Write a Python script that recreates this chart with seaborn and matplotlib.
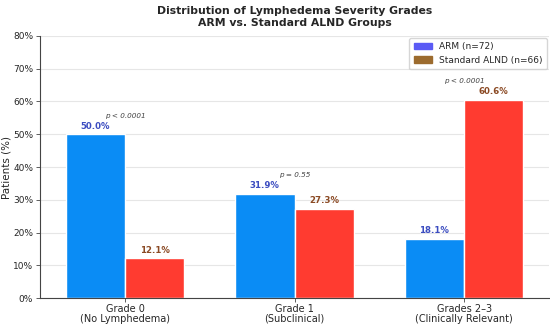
import pandas as pd
import numpy as np
import seaborn as sns
import matplotlib.pyplot as plt
from matplotlib.patches import Patch
from matplotlib.ticker import PercentFormatter

# Data
grades = ['Grade 0\n(No Lymphedema)', 'Grade 1\n(Subclinical)', 'Grades 2–3\n(Clinically Relevant)']
arm_pct = [50.0, 31.9, 18.1]
alnd_pct = [12.1, 27.3, 60.6]
p_values = ['p < 0.0001', 'p = 0.55', 'p < 0.0001']
groups = ['ARM (n=72)', 'Standard ALND (n=66)']

df = pd.DataFrame({
    'grade': grades * 2,
    'pct': arm_pct + alnd_pct,
    'group': [groups[0]] * 3 + [groups[1]] * 3,
})

sns.set_style('white')
plt.rcParams['font.family'] = ['DejaVu Sans']

fig, ax = plt.subplots(figsize=(5.5, 3.24), dpi=100)
bar_colors = {groups[0]: '#0a8cf5', groups[1]: '#ff3b30'}
sns.barplot(data=df, x='grade', y='pct', hue='group', palette=bar_colors,
            width=0.7, ax=ax, legend=False, saturation=1)

ax.set_ylim(0, 80)
ax.set_xlim(-0.5, 2.5)
ax.set_yticks(np.arange(0, 81, 10))
ax.yaxis.set_major_formatter(PercentFormatter(decimals=0))
ax.yaxis.grid(True, color='#e6e6e6', linewidth=0.8)
ax.set_axisbelow(True)
ax.tick_params(axis='y', labelsize=6.5, length=3, width=0.6, color='#444444', left=True, pad=2)
ax.tick_params(axis='x', labelsize=7, length=3, width=0.6, color='#444444', bottom=True, pad=1)
for lbl in ax.get_xticklabels():
    lbl.set_linespacing(1.0)
ax.set_xlabel('')
ax.set_ylabel('Patients (%)', fontsize=7.5)
ax.yaxis.set_label_coords(-0.057, 0.5)
sns.despine(ax=ax)
for s in ['left', 'bottom']:
    ax.spines[s].set_color('#444444')
    ax.spines[s].set_linewidth(0.8)

# value labels
for i, (a, b) in enumerate(zip(arm_pct, alnd_pct)):
    ax.text(i - 0.175, a + 1, f'{a:.1f}%', ha='center', va='bottom',
            fontsize=6.2, fontweight='bold', color='#3b4cc0')
    ax.text(i + 0.175, b + 1, f'{b:.1f}%', ha='center', va='bottom',
            fontsize=6.2, fontweight='bold', color='#8b4a24')
    ax.text(i, max(a, b) + 4.8, p_values[i], ha='center', va='bottom',
            fontsize=5.2, style='italic', color='#444444')

handles = [Patch(color='#5b5bf5', label=groups[0]), Patch(color='#9c6b2e', label=groups[1])]
ax.legend(handles=handles, loc='upper right', fontsize=6.5, frameon=True,
          handlelength=2, borderpad=0.5, labelspacing=0.5, borderaxespad=0.2)

ax.set_title('Distribution of Lymphedema Severity Grades\nARM vs. Standard ALND Groups',
             fontsize=7.8, fontweight='bold', pad=7, linespacing=1.3)

plt.subplots_adjust(left=0.073, right=0.998, top=0.889, bottom=0.08)
plt.savefig('out.png', dpi=100)
